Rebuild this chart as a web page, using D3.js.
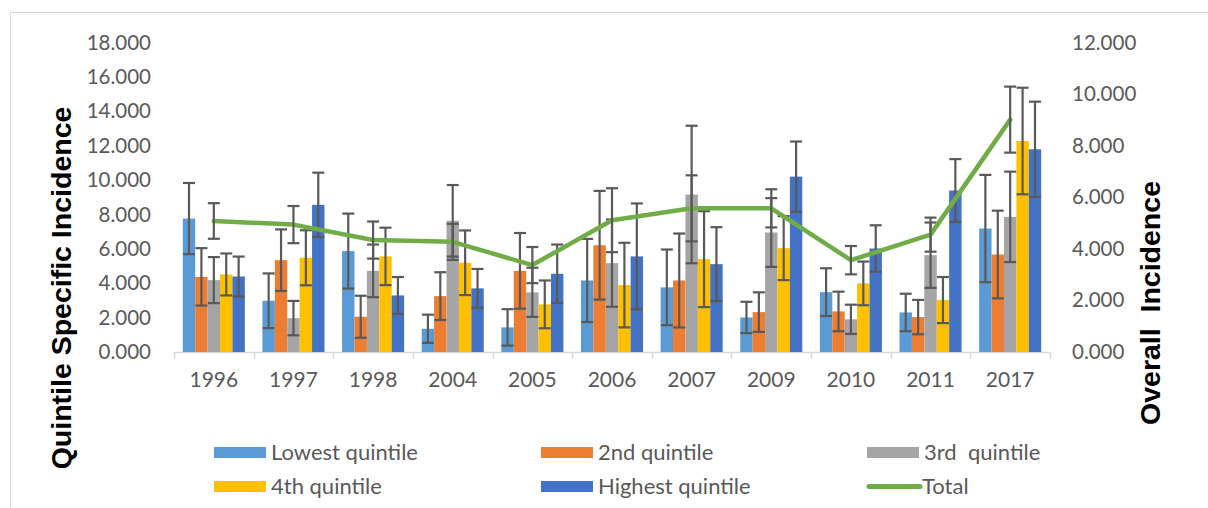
<!DOCTYPE html>
<html>
<head>
<meta charset="utf-8">
<script src="https://cdn.jsdelivr.net/npm/d3@7"></script>
<style>
    html, body { margin: 0; padding: 0; background: #fff; }
    #chart { width: 1208px; height: 508px; }
</style>
</head>
<body>
<div id="chart"></div>
<script>
// Values
const years = ['1996', '1997', '1998', '2004', '2005', '2006', '2007', '2009', '2010', '2011', '2017'];

const lowest     = [7.76, 2.98, 5.87, 1.35, 1.43, 4.16, 3.76, 2.01, 3.48, 2.30, 7.18];
const lowestErr  = [2.07, 1.59, 2.18, 0.82, 1.06, 2.42, 2.20, 0.91, 1.39, 1.09, 3.12];
const second     = [4.37, 5.34, 2.05, 3.25, 4.72, 6.21, 4.16, 2.32, 2.36, 2.03, 5.67];
const secondErr  = [1.67, 1.79, 1.22, 1.39, 2.20, 3.16, 2.73, 1.15, 1.15, 1.00, 2.55];
const third      = [4.18, 1.97, 4.72, 7.63, 3.47, 5.17, 9.16, 6.95, 1.90, 5.63, 7.86];
const thirdErr   = [1.34, 1.00, 1.53, 2.08, 1.43, 2.54, 4.00, 2.00, 0.85, 1.90, 2.63];
const fourth     = [4.51, 5.48, 5.56, 5.19, 2.77, 3.89, 5.40, 6.04, 3.99, 3.02, 12.27];
const fourthErr  = [1.22, 1.60, 1.67, 1.88, 1.39, 2.46, 2.79, 1.86, 1.27, 1.34, 3.10];
const highest    = [4.39, 8.56, 3.29, 3.70, 4.55, 5.56, 5.11, 10.20, 6.02, 9.39, 11.79];
const highestErr = [1.16, 1.87, 1.07, 1.13, 1.70, 3.08, 2.15, 2.04, 1.35, 1.83, 2.77];

const total      = [5.08, 4.94, 4.34, 4.27, 3.37, 5.11, 5.57, 5.57, 3.56, 4.55, 9.01];
const totalErr   = [0.69, 0.72, 0.72, 0.70, 0.70, 1.24, 1.28, 0.74, 0.55, 0.66, 1.28];

const leftTicks  = [0, 2, 4, 6, 8, 10, 12, 14, 16, 18];
const rightTicks = [0, 2, 4, 6, 8, 10, 12];

const seriesNames = ['Lowest quintile', '2nd quintile', '3rd  quintile', '4th quintile', 'Highest quintile'];
const seriesColors = ['#5b9bd5', '#ed7d31', '#a5a5a5', '#ffc000', '#4472c4'];
const seriesValues = [lowest, second, third, fourth, highest];
const seriesErrors = [lowestErr, secondErr, thirdErr, fourthErr, highestErr];

const W = 1208, H = 508;
const plot = { left: 174, right: 1050, top: 42.5, bottom: 352 };
const textColor = '#595959';
const tickFont = 'Lato, "Open Sans", sans-serif';

let svg = d3.select('#chart').append('svg')
    .attr('width', W)
    .attr('height', H);

// chart area border
svg.append('rect')
    .attr('x', 10.5).attr('y', 12.5)
    .attr('width', 1210).attr('height', 510)
    .style('fill', '#fff')
    .style('stroke', '#d9d9d9')
    .style('stroke-width', 1);

let x = d3.scaleBand()
    .domain(years)
    .range([plot.left, plot.right])
    .paddingInner(0).paddingOuter(0);

let xs = d3.scaleBand()
    .domain(d3.range(seriesNames.length))
    .range([8.8, x.bandwidth() - 8.8]);

let y = d3.scaleLinear().domain([0, 18]).range([plot.bottom, plot.top]);
let y2 = d3.scaleLinear().domain([0, 12]).range([plot.bottom, plot.top]);

// x axis
let xAxis = d3.axisBottom(x)
    .tickSize(0)
    .tickPadding(20);

let xg = svg.append('g')
    .attr('transform', 'translate(0,' + plot.bottom + ')')
    .call(xAxis);
xg.select('.domain').remove();
xg.selectAll('text')
    .style('font-family', tickFont)
    .style('font-size', '21px')
    .style('fill', textColor);

svg.append('line')
    .attr('x1', plot.left).attr('x2', plot.right)
    .attr('y1', plot.bottom + 0.5).attr('y2', plot.bottom + 0.5)
    .style('stroke', '#d9d9d9').style('stroke-width', 1.5);

svg.selectAll('.cat-tick')
    .data(years.concat(['end']))
    .enter()
    .append('line')
    .attr('class', 'cat-tick')
    .attr('x1', function(d, i) { return Math.round(plot.left + i * x.bandwidth()) + 0.5; })
    .attr('x2', function(d, i) { return Math.round(plot.left + i * x.bandwidth()) + 0.5; })
    .attr('y1', plot.bottom)
    .attr('y2', plot.bottom + 7)
    .style('stroke', '#d9d9d9').style('stroke-width', 1.5);

// left axis
let yAxis = d3.axisLeft(y)
    .tickValues(leftTicks)
    .tickSize(0)
    .tickPadding(0)
    .tickFormat(d3.format('.3f'));

let yg = svg.append('g')
    .attr('transform', 'translate(151,0)')
    .call(yAxis);
yg.select('.domain').remove();
yg.selectAll('text')
    .style('font-family', tickFont)
    .style('font-size', '20.5px')
    .style('fill', textColor);

// right axis
let y2Axis = d3.axisRight(y2)
    .tickValues(rightTicks)
    .tickSize(0)
    .tickPadding(0)
    .tickFormat(d3.format('.3f'));

let y2g = svg.append('g')
    .attr('transform', 'translate(1072,0)')
    .call(y2Axis);
y2g.select('.domain').remove();
y2g.selectAll('text')
    .style('font-family', tickFont)
    .style('font-size', '20.5px')
    .style('fill', textColor);

// axis titles
svg.append('text')
    .attr('transform', 'translate(71,288) rotate(-90)')
    .attr('text-anchor', 'middle')
    .style('font-family', '"Liberation Sans", Arial, sans-serif')
    .style('font-weight', 'bold')
    .style('font-size', '28.5px')
    .style('fill', '#000')
    .text('Quintile Specific Incidence');

svg.append('text')
    .attr('transform', 'translate(1160,303) rotate(-90)')
    .attr('text-anchor', 'middle')
    .style('font-family', '"Liberation Sans", Arial, sans-serif')
    .style('font-weight', 'bold')
    .style('font-size', '28.5px')
    .style('fill', '#000')
    .style('white-space', 'pre')
    .attr('xml:space', 'preserve')
    .text('Overall  Incidence');

// bars
let groups = svg.selectAll('.year-group')
    .data(years)
    .enter()
    .append('g')
    .attr('class', 'year-group')
    .attr('transform', function(d) { return 'translate(' + x(d) + ',0)'; });

seriesValues.forEach(function(vals, s) {
    groups.append('rect')
        .attr('x', xs(s))
        .attr('width', xs.bandwidth())
        .attr('y', function(d, i) { return y(vals[i]); })
        .attr('height', function(d, i) { return y(0) - y(vals[i]); })
        .style('fill', seriesColors[s]);
});

// error bars for the quintiles
const capW = 12;
const errColor = '#595959';

function drawErr(g, cx, yTop, yBot) {
    g.append('line')
        .attr('x1', cx).attr('x2', cx)
        .attr('y1', yTop).attr('y2', yBot);
    g.append('line')
        .attr('x1', cx - capW / 2).attr('x2', cx + capW / 2)
        .attr('y1', yTop).attr('y2', yTop);
    g.append('line')
        .attr('x1', cx - capW / 2).attr('x2', cx + capW / 2)
        .attr('y1', yBot).attr('y2', yBot);
}

let errG = svg.append('g')
    .style('stroke', errColor)
    .style('stroke-width', 2.2);

years.forEach(function(yr, i) {
    seriesValues.forEach(function(vals, s) {
        let cx = x(yr) + xs(s) + xs.bandwidth() / 2;
        drawErr(errG, cx, y(vals[i] + seriesErrors[s][i]), y(vals[i] - seriesErrors[s][i]));
    });
});

// total line
let line = d3.line()
    .x(function(d, i) { return x(years[i]) + x.bandwidth() / 2; })
    .y(function(d) { return y2(d); });

svg.append('path')
    .datum(total)
    .attr('d', line)
    .style('fill', 'none')
    .style('stroke', '#70ad47')
    .style('stroke-width', 4.5)
    .style('stroke-linejoin', 'round')
    .style('stroke-linecap', 'round');

let totErrG = svg.append('g')
    .style('stroke', errColor)
    .style('stroke-width', 2.2);

years.forEach(function(yr, i) {
    let cx = x(yr) + x.bandwidth() / 2;
    drawErr(totErrG, cx, y2(total[i] + totalErr[i]), y2(total[i] - totalErr[i]));
});

// legend
const legendCols = [214, 541, 867];
const legendRows = [452.5, 486.5];
let legendItems = seriesNames.map(function(n, i) {
    return { name: n, color: seriesColors[i], type: 'bar' };
});
legendItems.push({ name: 'Total', color: '#70ad47', type: 'line' });

let legend = svg.selectAll('.legend-item')
    .data(legendItems)
    .enter()
    .append('g')
    .attr('class', 'legend-item')
    .attr('transform', function(d, i) {
        return 'translate(' + legendCols[i % 3] + ',' + legendRows[Math.floor(i / 3)] + ')';
    });

legend.filter(function(d) { return d.type === 'bar'; })
    .append('rect')
    .attr('x', 0).attr('y', -5.5)
    .attr('width', 52).attr('height', 11)
    .style('fill', function(d) { return d.color; });

legend.filter(function(d) { return d.type === 'line'; })
    .append('line')
    .attr('x1', 2).attr('x2', 53)
    .attr('y1', 0).attr('y2', 0)
    .style('stroke', function(d) { return d.color; })
    .style('stroke-width', 5)
    .style('stroke-linecap', 'round');

legend.append('text')
    .attr('x', function(d) { return d.type === 'line' ? 55 : 57; })
    .attr('y', 0)
    .attr('dy', '0.35em')
    .attr('xml:space', 'preserve')
    .style('white-space', 'pre')
    .style('font-family', tickFont)
    .style('font-size', '22px')
    .style('fill', textColor)
    .text(function(d) { return d.name; });
</script>
</body>
</html>
